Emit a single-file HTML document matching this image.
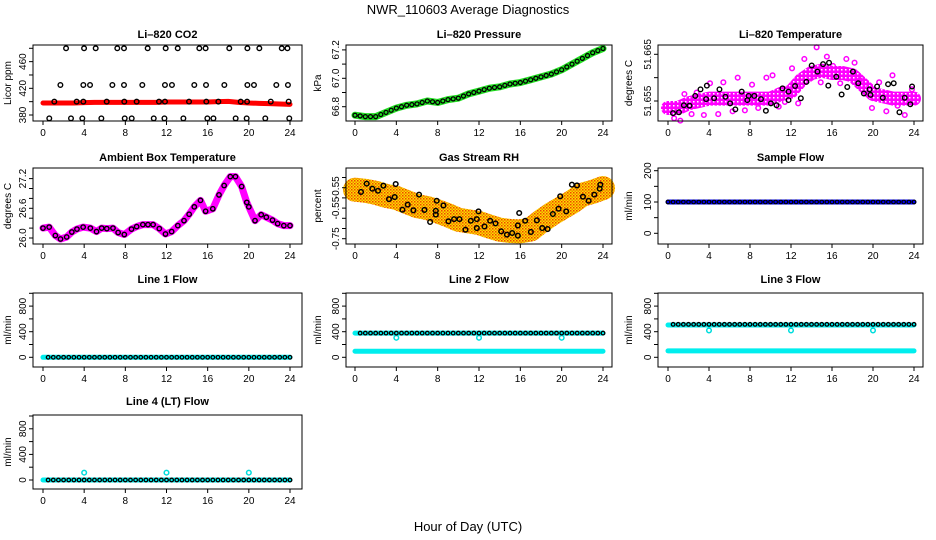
<!DOCTYPE html>
<html><head><meta charset="utf-8">
<style>
html,body{margin:0;padding:0;background:#fff;}
svg{display:block;font-family:"Liberation Sans",sans-serif;}
</style></head>
<body>
<svg id="chart" width="936" height="540" viewBox="0 0 936 540">
<defs>
<pattern id="rhPat" width="3" height="3" patternUnits="userSpaceOnUse">
<rect width="3" height="3" fill="#ffdd00"/>
<rect width="1.5" height="1.5" fill="#ee4400"/>
<rect x="1.5" y="1.5" width="1.5" height="1.5" fill="#ee8800"/>
</pattern>
<pattern id="magPat" width="4" height="4" patternUnits="userSpaceOnUse">
<rect width="4" height="4" fill="#ff00ff"/>
<rect x="1" y="1" width="1.5" height="1.5" fill="#ffffff"/>
</pattern>
</defs>
<text x="468" y="14" text-anchor="middle" font-size="13">NWR_110603  Average Diagnostics</text>
<text x="468" y="531" text-anchor="middle" font-size="13">Hour of Day (UTC)</text>
</svg>
<script>
// ---------- data ----------
const xTicks = [0,4,8,12,16,20,24];
const halfHours = [0,0.5,1,1.5,2,2.5,3,3.5,4,4.5,5,5.5,6,6.5,7,7.5,8,8.5,9,9.5,10,10.5,11,11.5,12,12.5,13,13.5,14,14.5,15,15.5,16,16.5,17,17.5,18,18.5,19,19.5,20,20.5,21,21.5,22,22.5,23,23.5,24];
const hours = [0,1,2,3,4,5,6,7,8,9,10,11,12,13,14,15,16,17,18,19,20,21,22,23,24];

// CO2
const co2Band = [398,398,398,398,398.5,399,399,399,399,399,399,399,399.5,399.5,399.5,399.5,399.5,400,400.5,399,398,397.5,397,396.5,396];
const co2HighH = [2.24,3.99,5.12,7.22,7.87,10.17,11.92,13.09,15.19,15.8,18.1,19.86,21.02,23.2,23.75];
const co2MidH = [1.69,3.92,4.57,6.74,7.87,9.65,11.85,12.53,14.7,15.84,17.62,19.86,20.5,22.67,23.8];
const co2LowH = [1.1,3.27,3.92,6.19,7.9,9.1,11.27,11.85,14.19,15.87,17.04,19.21,19.83,22.13,23.87];
const co2MinH = [0.61,2.72,3.82,5.67,7.94,8.62,10.76,11.8,13.64,15.97,16.56,18.72,19.79,21.6,23.93];
const co2Levels = [480,425,400,375];

// Pressure
const presBand = [66.74,66.73,66.73,66.76,66.79,66.81,66.82,66.84,66.83,66.85,66.86,66.89,66.91,66.93,66.94,66.96,66.97,66.99,67.01,67.03,67.06,67.10,67.14,67.18,67.21];

// Li-820 temperature
const tempBand = [51.6535,51.6535,51.6545,51.655,51.6555,51.6555,51.6555,51.6555,51.6555,51.6555,51.6555,51.6565,51.657,51.6595,51.661,51.6615,51.661,51.661,51.6605,51.6585,51.6565,51.656,51.6555,51.6555,51.6555];
const tempPinkH = [0.1,0.6,1.2,1.6,2.3,2.8,3.5,4.1,4.9,5.4,6.3,6.8,7.5,8.2,8.8,9.6,10.2,10.8,11.4,12.1,12.7,13.3,13.9,14.5,14.9,15.5,16.1,16.8,17.4,18.2,18.7,19.3,19.9,20.6,21.3,21.9,22.4,23.1,23.8];
const tempPinkV = [51.6540,51.6513,51.6508,51.6565,51.6522,51.6568,51.6520,51.6588,51.6522,51.6590,51.6528,51.6600,51.6530,51.6585,51.6535,51.6600,51.6605,51.6538,51.6548,51.6620,51.6545,51.6640,51.6600,51.6665,51.6590,51.6645,51.6625,51.6588,51.6640,51.6632,51.6595,51.6590,51.6535,51.6590,51.6528,51.6605,51.6540,51.6520,51.6575];
const tempBlackH = [0.49,1.07,1.55,2.1,2.66,3.17,3.72,3.79,4.5,5.02,5.6,6.06,6.57,7.19,7.74,7.87,8.42,9.07,9.55,10.04,10.59,11.17,11.76,11.76,12.4,12.96,13.5,14.02,14.58,15.13,15.71,15.64,16.42,16.94,17.49,18.04,18.56,19.11,19.66,19.76,20.4,20.96,21.47,22.02,22.58,23.09,23.64,23.81];
const tempBlackV = [51.6524,51.6526,51.6541,51.654,51.6561,51.6575,51.6554,51.6583,51.6556,51.6575,51.6559,51.6545,51.6532,51.657,51.6552,51.6561,51.6561,51.6554,51.6529,51.6545,51.6541,51.6577,51.657,51.6552,51.6582,51.6556,51.6591,51.6626,51.6613,51.6629,51.6632,51.6583,51.6602,51.6564,51.658,51.6613,51.6588,51.6566,51.6575,51.6563,51.6581,51.6557,51.6586,51.6588,51.6526,51.6557,51.6543,51.6581];

// Ambient box temperature
const ambH = [0,0.6,1.2,1.7,2.3,2.8,3.3,3.9,4.6,5.2,5.7,6.2,6.8,7.3,7.9,8.6,9.1,9.7,10.2,10.7,11.3,11.9,12.5,13.1,13.7,14.2,14.7,15.3,15.8,16.5,17.1,17.6,18.2,18.7,19.3,19.8,20,20.6,21.2,21.7,22.3,22.8,23.4,24];
const ambV = [26.2,26.22,26.05,25.98,26.02,26.12,26.18,26.22,26.2,26.13,26.2,26.19,26.2,26.11,26.07,26.18,26.23,26.27,26.27,26.27,26.19,26.08,26.13,26.25,26.35,26.48,26.63,26.76,26.54,26.59,26.87,27.06,27.24,27.24,27.04,26.72,26.63,26.35,26.47,26.42,26.36,26.29,26.25,26.25];

// Gas stream RH
const rhBand = [-0.51,-0.515,-0.525,-0.54,-0.55,-0.57,-0.59,-0.60,-0.616,-0.635,-0.657,-0.665,-0.673,-0.69,-0.706,-0.712,-0.714,-0.705,-0.665,-0.63,-0.60,-0.57,-0.534,-0.52,-0.502];
const rhH = [0.58,1.13,1.68,2.23,2.75,3.29,3.94,3.84,4.59,5.1,5.65,6.2,6.72,7.27,7.91,7.82,7.82,8.56,9.04,9.59,10.11,10.69,11.21,11.79,11.79,11.95,12.53,13.08,13.6,14.15,14.7,15.21,15.76,15.76,15.89,16.47,17.02,17.6,18.12,18.64,19.15,19.7,19.86,20.44,20.99,21.48,22.06,22.61,23.16,23.68,23.74];
const rhV = [-0.521,-0.48,-0.505,-0.515,-0.49,-0.556,-0.482,-0.546,-0.608,-0.583,-0.611,-0.534,-0.609,-0.668,-0.564,-0.613,-0.632,-0.587,-0.665,-0.654,-0.654,-0.706,-0.662,-0.654,-0.698,-0.616,-0.69,-0.662,-0.675,-0.714,-0.73,-0.722,-0.735,-0.685,-0.624,-0.662,-0.717,-0.66,-0.698,-0.703,-0.629,-0.603,-0.542,-0.616,-0.485,-0.489,-0.544,-0.564,-0.534,-0.505,-0.485];

// Flows
const sampleFlow = 100;
const line1Flow = 0;
const line2Main = 378, line2Low = 95, line2Dip = 305;
const line3Main = 515, line3Low = 100, line3Dip = 420;
const line4Main = 0, line4Spike = 115;
const dipHours = [4,12,20];

// ---------- drawing ----------
const svg = document.getElementById('chart');
const NS = 'http://www.w3.org/2000/svg';
function el(tag, parent){ const e=document.createElementNS(NS,tag); parent.appendChild(e); return e; }
function setA(e,o){ for(const k in o) e.setAttribute(k,o[k]); return e; }

const cols = [{l:33,r:302,x0:43,x24:290,yl:11},{l:346,r:612,x0:355,x24:603,yl:321},{l:658,r:923,x0:668,x24:914,yl:632}];
const rows = [{t:45,b:121,ty:38},{t:168,b:244,ty:161},{t:293,b:367,ty:283},{t:415,b:489,ty:405}];

function makePanel(name, title, ylab, col, row, v0, p0, v1, p1, yTicks, yLabels){
  const c=cols[col], r=rows[row];
  const g=el('g',svg);
  
  
  const sx=h=>c.x0+(c.x24-c.x0)*h/24;
  const sy=v=>p0+(p1-p0)*(v-v0)/(v1-v0);
  const tt=setA(el('text',g),{x:(c.l+c.r)/2,y:r.ty,'text-anchor':'middle','font-size':11,'font-weight':'bold'});
  tt.textContent=title;
  
  
  const yt=setA(el('text',g),{x:0,y:0,'text-anchor':'middle','font-size':10,transform:`translate(${c.yl},${(r.t+r.b)/2}) rotate(-90)`});
  yt.textContent=ylab;
  
  
  const plot=el('g',g);
  
  
  const xa=el('g',g);
  
  
  xTicks.forEach(h=>{
    setA(el('line',xa),{x1:sx(h),x2:sx(h),y1:r.b,y2:r.b+4,stroke:'#000'});
    const t=setA(el('text',xa),{x:sx(h),y:r.b+15,'text-anchor':'middle','font-size':10});
    t.textContent=h;
    
    
  });
  const ya=el('g',g);
  
  
  yTicks.forEach(v=>{ setA(el('line',ya),{x1:c.l-4,x2:c.l,y1:sy(v),y2:sy(v),stroke:'#000'}); });
  yLabels.forEach(([v,s])=>{
    const t=setA(el('text',ya),{x:0,y:0,'text-anchor':'middle','font-size':10,transform:`translate(${c.l-7},${sy(v)}) rotate(-90)`});
    t.textContent=s;
    
    
  });
  const box=setA(el('rect',g),{x:c.l,y:r.t,width:c.r-c.l,height:r.b-r.t,fill:'none',stroke:'#000'});
  
  
  return {plot,sx,sy};
}
function band(P, xs, vs, color, w, name){
  const p=setA(el('polyline',P.plot),{points:xs.map((h,i)=>P.sx(h)+','+P.sy(vs[i])).join(' '),fill:'none',stroke:color,'stroke-width':w,'stroke-linejoin':'round','stroke-linecap':'round'});
  
  
}
function dots(P, xs, vs, color, name, rr, sw){
  xs.forEach((h,i)=>{
    const v=Array.isArray(vs)?vs[i]:vs;
    const c=setA(el('circle',P.plot),{cx:P.sx(h),cy:P.sy(v),r:rr||2.3,fill:'none',stroke:color,'stroke-width':sw||1.4});
    
    
  });
}

// Panel 1: CO2
let P=makePanel('co2','Li–820 CO2','Licor ppm',0,0,380,115,480,48.3,[380,400,420,440,460,480],[[380,'380'],[420,'420'],[460,'460']]);
band(P,hours,co2Band,'#ff0000',5,'co2-series');
dots(P,co2HighH,co2Levels[0],'#000','co2-point');
dots(P,co2MidH,co2Levels[1],'#000','co2-point');
dots(P,co2LowH,co2Levels[2],'#000','co2-point');
dots(P,co2MinH,co2Levels[3],'#000','co2-point');

// Panel 2: Pressure
P=makePanel('pressure','Li–820 Pressure','kPa',1,0,66.8,106.7,67.2,49.9,[66.8,66.9,67.0,67.1,67.2],[[66.8,'66.8'],[67.0,'67.0'],[67.2,'67.2']]);
band(P,hours,presBand,'#22dd22',7,'pressure-series');
dots(P,halfHours,halfHours.map((h)=>presBand[Math.floor(h)]+(h%1?(presBand[Math.min(24,Math.ceil(h))]-presBand[Math.floor(h)])/2:0)),'#000','pressure-point',2,1.3);

// Panel 3: Li-820 temperature
P=makePanel('li820-temp','Li–820 Temperature','degrees C',2,0,51.655,101,51.665,54.3,[51.655,51.66,51.665],[[51.655,'51.655'],[51.665,'51.665']]);
band(P,hours,tempBand,'url(#magPat)',14,'li820-temp-band');
dots(P,tempPinkH,tempPinkV,'#ff00ff','li820-temp-point',2.3,1.5);
dots(P,tempBlackH,tempBlackV,'#000','li820-temp-sample');

// Panel 4: Ambient
P=makePanel('ambient-temp','Ambient Box Temperature','degrees C',0,1,26.0,238,27.2,178.6,[26.0,26.2,26.4,26.6,26.8,27.0,27.2],[[26.0,'26.0'],[26.6,'26.6'],[27.2,'27.2']]);
band(P,ambH,ambV,'#ff00ff',7,'ambient-temp-series');
dots(P,ambH,ambV,'#000','ambient-temp-point',2.2,1.4);

// Panel 5: RH
P=makePanel('gas-rh','Gas Stream RH','percent',1,1,-0.75,238.7,-0.45,177.5,[-0.75,-0.70,-0.65,-0.60,-0.55,-0.50,-0.45],[[-0.75,'-0.75'],[-0.60,'-0.55'],[-0.50,'-0.55']]);
band(P,hours,rhBand,'url(#rhPat)',24,'gas-rh-band');
dots(P,rhH,rhV,'#000','gas-rh-point',2.3,1.5);

// Panel 6: Sample flow
P=makePanel('sample-flow','Sample Flow','ml/min',2,1,0,233.3,200,170.7,[0,50,100,150,200],[[0,'0'],[100,'100'],[200,'200']]);
band(P,[0,24],[sampleFlow,sampleFlow],'#0000ee',5,'sample-flow-series');
dots(P,halfHours,sampleFlow,'#000','sample-flow-point',1.8,1.2);

// Panel 7: Line 1
const fT=[0,200,400,600,800,1000], fL=[[0,'0'],[400,'400'],[800,'800']];
P=makePanel('line1-flow','Line 1 Flow','ml/min',0,2,0,357.3,800,306.1,fT,fL);
band(P,[0,24],[line1Flow,line1Flow],'#00eeee',5,'line1-flow-series');
dots(P,halfHours.slice(1),line1Flow,'#000','line1-flow-point',1.8,1.3);

// Panel 8: Line 2
P=makePanel('line2-flow','Line 2 Flow','ml/min',1,2,0,357.3,800,306.1,fT,fL);
band(P,[0,24],[line2Low,line2Low],'#00eeee',5,'line2-flow-low');
band(P,[0,24],[line2Main,line2Main],'#00eeee',5,'line2-flow-main');
dots(P,dipHours,line2Dip,'#00dddd','line2-flow-dip',2.3,1.5);
dots(P,halfHours.slice(1),line2Main,'#000','line2-flow-point',1.8,1.3);

// Panel 9: Line 3
P=makePanel('line3-flow','Line 3 Flow','ml/min',2,2,0,357.3,800,306.1,fT,fL);
band(P,[0,24],[line3Low,line3Low],'#00eeee',5,'line3-flow-low');
band(P,[0,24],[line3Main-10,line3Main-10],'#00eeee',5,'line3-flow-main');
dots(P,dipHours,line3Dip,'#00dddd','line3-flow-dip',2.3,1.5);
dots(P,halfHours.slice(1),line3Main,'#000','line3-flow-point',1.8,1.3);

// Panel 10: Line 4
P=makePanel('line4-flow','Line 4 (LT) Flow','ml/min',0,3,0,480,800,428.8,fT,fL);
band(P,[0,24],[line4Main,line4Main],'#00eeee',5,'line4-flow-series');
dots(P,dipHours,line4Spike,'#00dddd','line4-flow-spike',2.3,1.5);
dots(P,halfHours.slice(1),line4Main,'#000','line4-flow-point',1.8,1.3);
</script>
</body></html>
